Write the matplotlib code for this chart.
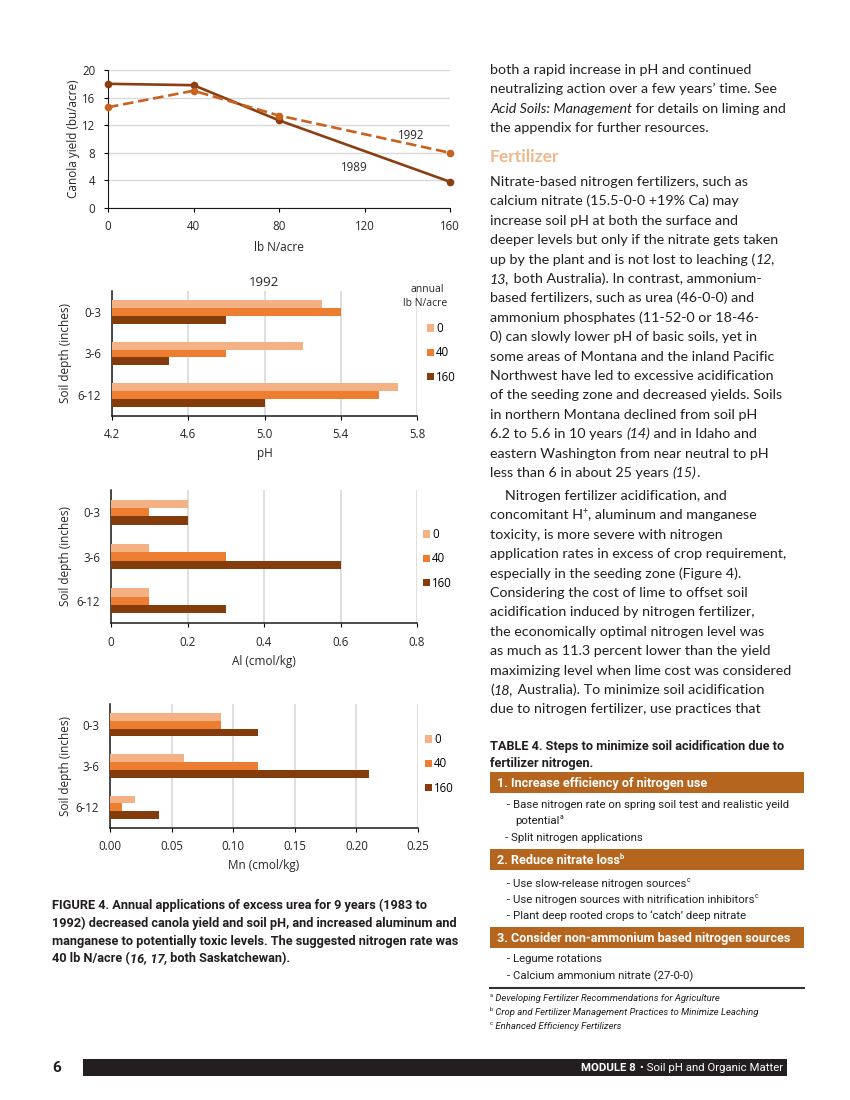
import matplotlib
matplotlib.use('Agg')
import matplotlib.pyplot as plt
from matplotlib import font_manager
import numpy as np

# ---- data ----
n_rates = [0, 40, 80, 160]
yield_1989 = [18.0, 17.8, 12.7, 3.8]
yield_1992 = [14.6, 17.0, 13.4, 8.0]

depths = ['0-3', '3-6', '6-12']
rate_labels = ['0', '40', '160']
ph_0 = [5.3, 5.2, 5.7]
ph_40 = [5.4, 4.8, 5.6]
ph_160 = [4.8, 4.5, 5.0]
al_0 = [0.2, 0.1, 0.1]
al_40 = [0.1, 0.3, 0.1]
al_160 = [0.2, 0.6, 0.3]
mn_0 = [0.09, 0.06, 0.02]
mn_40 = [0.09, 0.12, 0.01]
mn_160 = [0.12, 0.21, 0.04]

bar_colors = ['#F4B183', '#ED7D31', '#843C0C']
c1989 = '#8B3E12'
c1992 = '#C8621E'
txt_col = '#231F20'
tick_col = '#262626'

names = {f.name for f in font_manager.fontManager.ttflist}
narrow = 'Liberation Sans Narrow' if 'Liberation Sans Narrow' in names else 'Roboto'
body = 'Lato'
chart_font = 'Open Sans'

W, H = 850, 1100
fig = plt.figure(figsize=(W / 100, H / 100), dpi=100)
renderer = fig.canvas.get_renderer()


def px_axes(left, top, right, bottom):
    return fig.add_axes([left / W, 1 - bottom / H, (right - left) / W, (bottom - top) / H])


def ftext(x, y, s, **kw):
    return fig.text(x / W, 1 - y / H, s, **kw)


def advance(s, **kw):
    t = fig.text(0, 0, s + '|', **kw)
    w1 = t.get_window_extent(renderer).width
    t.remove()
    t = fig.text(0, 0, '|', **kw)
    w2 = t.get_window_extent(renderer).width
    t.remove()
    return w1 - w2


def rich(x, y, parts, size, family, color=txt_col):
    for s, style in parts:
        kw = dict(fontsize=size, family=family, color=color, va='baseline')
        yy = y
        if 'i' in style:
            kw['style'] = 'italic'
        if 'b' in style:
            kw['weight'] = 'bold'
        if 'sup' in style:
            kw['fontsize'] = size * 0.6
            yy = y - size * 0.55
        ftext(x, yy, s, **kw)
        x += advance(s, **kw)


# ---- line chart ----
ax1 = px_axes(108, 70, 450, 208)
ax1.plot(n_rates, yield_1989, color=c1989, lw=1.9, marker='o', ms=4.5, clip_on=False, zorder=3)
ax1.plot(n_rates, yield_1992, color=c1992, lw=1.9, ls=(0, (4, 1.8)), marker='o', ms=4.5,
         clip_on=False, zorder=3)
ax1.set_xlim(0, 160)
ax1.set_ylim(0, 20)
ax1.set_xticks([0, 40, 80, 120, 160])
ax1.set_yticks(range(0, 21, 4))
ax1.grid(axis='y', color='#D9D9D9', lw=1)
ax1.set_axisbelow(True)
for s in ['top', 'right']:
    ax1.spines[s].set_visible(False)
for s in ['left', 'bottom']:
    ax1.spines[s].set_color('#1a1a1a')
ax1.tick_params(length=3, width=0.8, labelsize=8.3, pad=6, labelcolor=tick_col)
for lab in ax1.get_xticklabels() + ax1.get_yticklabels():
    lab.set_family(chart_font)
ax1.text(142, 10.5, '1992', fontsize=8.3, family=chart_font, color=tick_col, ha='center', va='center')
ax1.text(115, 5.9, '1989', fontsize=8.3, family=chart_font, color=tick_col, ha='center', va='center')
ftext(73, 139, 'Canola yield (bu/acre)', rotation=90, ha='center', va='center',
      fontsize=8.5, family=chart_font, color=tick_col)
ftext(279, 247, 'lb N/acre', ha='center', va='center', fontsize=8.5, family=chart_font,
      color=tick_col)


# ---- bar panels ----
def bar_panel(box, series, xlim, xticks, ticklabels, xlabel, xlabel_y, leg_x, leg_y):
    ax = px_axes(*box)
    y = np.arange(len(depths))
    h = 0.19
    handles = []
    for i, vals in enumerate(series):
        b = ax.barh(y + (i - 1) * h, np.array(vals) - xlim[0], left=xlim[0], height=h,
                    color=bar_colors[i], label=rate_labels[i], zorder=3)
        handles.append(b)
    ax.set_xlim(*xlim)
    ax.set_ylim(2.5, -0.5)
    ax.set_xticks(xticks)
    ax.set_xticklabels(ticklabels)
    ax.set_yticks(y)
    ax.set_yticklabels(depths)
    ax.grid(axis='x', color='#D9D9D9', lw=1.2)
    ax.set_axisbelow(True)
    for s in ['top', 'right']:
        ax.spines[s].set_visible(False)
    for s in ['left', 'bottom']:
        ax.spines[s].set_color('#1a1a1a')
        ax.spines[s].set_linewidth(1.1)
    ax.tick_params(axis='x', length=3, width=0.8, labelsize=8.3, pad=6, labelcolor=tick_col)
    ax.tick_params(axis='y', length=0, labelsize=8.3, pad=8, labelcolor=tick_col)
    for lab in ax.get_xticklabels() + ax.get_yticklabels():
        lab.set_family(chart_font)
    l, t, r, b = box
    ftext((l + r) / 2, xlabel_y, xlabel, ha='center', va='center', fontsize=8.5,
          family=chart_font, color=tick_col)
    ftext(65, (t + b) / 2, 'Soil depth (inches)', rotation=90, ha='center', va='center',
          fontsize=8.5, family=chart_font, color=tick_col)
    ax.legend(handles, rate_labels, loc='upper left', bbox_to_anchor=(leg_x / W, 1 - leg_y / H),
              bbox_transform=fig.transFigure, frameon=False, handlelength=0.6, handleheight=0.6,
              handletextpad=0.2, labelspacing=0.98, borderpad=0, borderaxespad=0,
              prop={'family': chart_font, 'size': 8.3})
    return ax


ax2 = bar_panel((112, 291, 417, 416), [ph_0, ph_40, ph_160], (4.2, 5.8),
                [4.2, 4.6, 5.0, 5.4, 5.8], ['4.2', '4.6', '5.0', '5.4', '5.8'], 'pH', 453,
                427, 322)
ftext(264, 283, '1992', ha='center', va='center', fontsize=9.5, family=chart_font, color=tick_col)
ftext(427, 289, 'annual', ha='center', va='center', fontsize=7.5, family=chart_font, color=tick_col)
ftext(425, 304, 'lb N/acre', ha='center', va='center', fontsize=7.5, family=chart_font,
      color=tick_col)

ax3 = bar_panel((111, 490, 417, 623), [al_0, al_40, al_160], (0, 0.8),
                [0, 0.2, 0.4, 0.6, 0.8], ['0', '0.2', '0.4', '0.6', '0.8'], 'Al (cmol/kg)', 661,
                423, 528)

ax4 = bar_panel((110, 704, 418, 828), [mn_0, mn_40, mn_160], (0, 0.25),
                [0, 0.05, 0.10, 0.15, 0.20, 0.25],
                ['0.00', '0.05', '0.10', '0.15', '0.20', '0.25'], 'Mn (cmol/kg)', 866,
                425, 733)

# ---- caption ----
cap_lines = [
    [('FIGURE 4. Annual applications of excess urea for 9 years (1983 to', 'b')],
    [('1992) decreased canola yield and soil pH, and increased aluminum and', 'b')],
    [('manganese to potentially toxic levels. The suggested nitrogen rate was', 'b')],
    [('40 lb N/acre (', 'b'), ('16, 17,', 'bi'), (' both Saskatchewan).', 'b')],
]
for k, parts in enumerate(cap_lines):
    rich(52, 909 + k * 17.8, parts, 9.2, narrow)

# ---- right column text ----
para0 = [
    [('both a rapid increase in pH and continued', 'r')],
    [('neutralizing action over a few years\u2019 time. See', 'r')],
    [('Acid Soils: Management', 'i'), (' for details on liming and', 'r')],
    [('the appendix for further resources.', 'r')],
]
para1 = [
    [('Nitrate-based nitrogen fertilizers, such as', 'r')],
    [('calcium nitrate (15.5-0-0 +19% Ca) may', 'r')],
    [('increase soil pH at both the surface and', 'r')],
    [('deeper levels but only if the nitrate gets taken', 'r')],
    [('up by the plant and is not lost to leaching (', 'r'), ('12,', 'i')],
    [('13,', 'i'), (' both Australia). In contrast, ammonium-', 'r')],
    [('based fertilizers, such as urea (46-0-0) and', 'r')],
    [('ammonium phosphates (11-52-0 or 18-46-', 'r')],
    [('0) can slowly lower pH of basic soils, yet in', 'r')],
    [('some areas of Montana and the inland Pacific', 'r')],
    [('Northwest have led to excessive acidification', 'r')],
    [('of the seeding zone and decreased yields. Soils', 'r')],
    [('in northern Montana declined from soil pH', 'r')],
    [('6.2 to 5.6 in 10 years ', 'r'), ('(14)', 'i'), (' and in Idaho and', 'r')],
    [('eastern Washington from near neutral to pH', 'r')],
    [('less than 6 in about 25 years ', 'r'), ('(15)', 'i'), ('.', 'r')],
]
para2 = [
    [('Nitrogen fertilizer acidification, and', 'r')],
    [('concomitant H', 'r'), ('+', 'sup'), (', aluminum and manganese', 'r')],
    [('toxicity, is more severe with nitrogen', 'r')],
    [('application rates in excess of crop requirement,', 'r')],
    [('especially in the seeding zone (Figure 4).', 'r')],
    [('Considering the cost of lime to offset soil', 'r')],
    [('acidification induced by nitrogen fertilizer,', 'r')],
    [('the economically optimal nitrogen level was', 'r')],
    [('as much as 11.3 percent lower than the yield', 'r')],
    [('maximizing level when lime cost was considered', 'r')],
    [('(', 'r'), ('18,', 'i'), (' Australia). To minimize soil acidification', 'r')],
    [('due to nitrogen fertilizer, use practices that', 'r')],
]
step = 19.4
bsize = 10.3
for k, parts in enumerate(para0):
    rich(490, 74 + k * step, parts, bsize, body)
ftext(490, 162, 'Fertilizer', fontsize=12.5, weight='bold', family=body, color='#EDB98B',
      va='baseline')
for k, parts in enumerate(para1):
    rich(490, 186 + k * step, parts, bsize, body)
for k, parts in enumerate(para2):
    rich(505 if k == 0 else 490, 500 + k * step, parts, bsize, body)

# ---- table 4 ----
rich(490, 750, [('TABLE 4. Steps to minimize soil acidification due to', 'b')], 9.2, narrow)
rich(490, 767, [('fertilizer nitrogen.', 'b')], 9.2, narrow)

hdr_col = '#B5651D'
headers = [
    (772, [('1. Increase efficiency of nitrogen use', 'b')]),
    (849, [('2. Reduce nitrate loss', 'b'), ('b', 'bsup')]),
    (927, [('3. Consider non-ammonium based nitrogen sources', 'b')]),
]
for top, parts in headers:
    fig.patches.append(plt.Rectangle((490 / W, 1 - (top + 21) / H), 314 / W, 21 / H,
                                     transform=fig.transFigure, color=hdr_col, lw=0))
    rich(497, top + 15, parts, 9.1, narrow, color='white')

items = [
    (507, 808, [('- Base nitrogen rate on spring soil test and realistic yeild', 'r')]),
    (515, 824, [('potential', 'r'), ('a', 'sup')]),
    (505, 841, [('- Split nitrogen applications', 'r')]),
    (507, 887, [('- Use slow-release nitrogen sources', 'r'), ('c', 'sup')]),
    (507, 903, [('- Use nitrogen sources with nitrification inhibitors', 'r'), ('c', 'sup')]),
    (507, 919, [('- Plant deep rooted crops to \u2018catch\u2019 deep nitrate', 'r')]),
    (507, 962, [('- Legume rotations', 'r')]),
    (507, 979, [('- Calcium ammonium nitrate (27-0-0)', 'r')]),
]
for x, y, parts in items:
    rich(x, y, parts, 8.2, narrow)

fig.add_artist(plt.Line2D([490 / W, 804 / W], [1 - 988 / H, 1 - 988 / H], color='#333333',
                          lw=1.5))
notes = [
    ('a', 'Developing Fertilizer Recommendations for Agriculture'),
    ('b', 'Crop and Fertilizer Management Practices to Minimize Leaching'),
    ('c', 'Enhanced Efficiency Fertilizers'),
]
for k, (m, s) in enumerate(notes):
    rich(490, 1001 + k * 14, [(m, 'sup'), (' ' + s, 'i')], 6.8, narrow)

# ---- footer ----
ftext(52, 1068, '6', fontsize=11, weight='bold', family=narrow, color=txt_col, va='center')
fig.patches.append(plt.Rectangle((83 / W, 1 - 1076 / H), 704 / W, 17 / H,
                                 transform=fig.transFigure, color='#231F20', lw=0))
foot = ftext(783, 1071, '\u2022 Soil pH and Organic Matter', fontsize=8.2, family=narrow,
             color='white', ha='right', va='baseline')
fw = foot.get_window_extent(renderer).width
ftext(779 - fw, 1071, 'MODULE 8', fontsize=8.2, weight='bold', family=narrow, color='white',
      ha='right', va='baseline')

fig.savefig('out.png', dpi=100)
